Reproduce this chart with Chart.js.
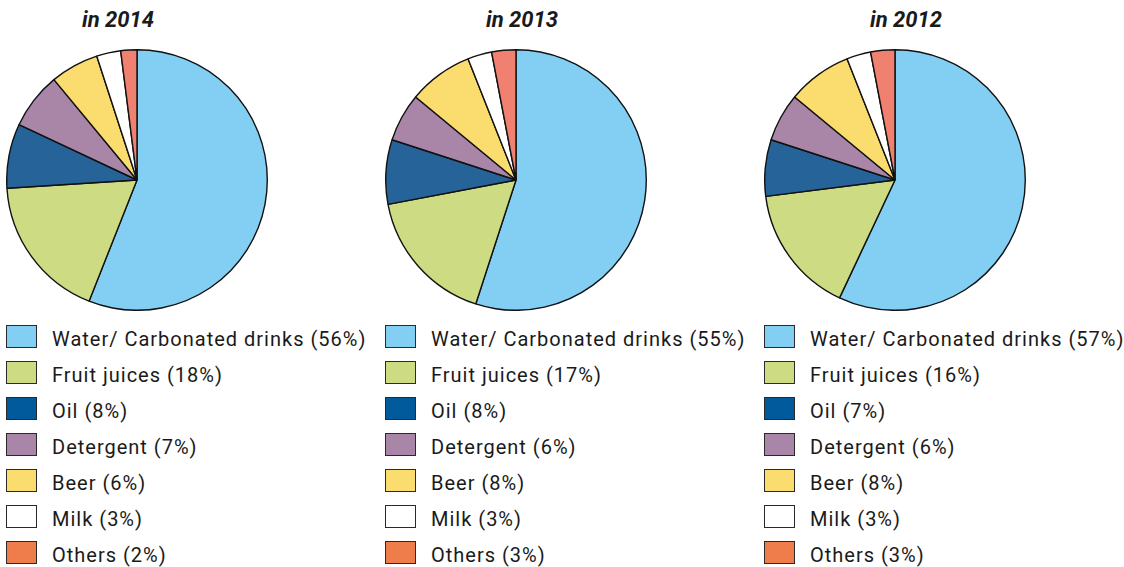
<!DOCTYPE html>
<html>
<head>
<meta charset="utf-8">
<script src="https://cdn.jsdelivr.net/npm/chart.js@4.4.1/dist/chart.umd.min.js"></script>
<style>
    html, body { margin: 0; padding: 0; background: #fff; }
    body { width: 1124px; height: 567px; position: relative; overflow: hidden; font-family: Roboto, "Liberation Sans", sans-serif; color: #1a1a1a; }
    .col { position: absolute; top: 0; width: 379px; height: 567px; }
    .title { position: absolute; top: 7px; font-size: 22px; font-weight: bold; font-style: italic; white-space: nowrap; }
    .pie { position: absolute; left: 0; top: 49px; width: 262px; height: 262px; }
    .legend { position: absolute; left: 0; top: 321px; }
    .item { height: 36px; display: flex; align-items: center; white-space: nowrap; font-size: 20px; letter-spacing: 1px; }
    .box { width: 29px; height: 21px; border: 1.3px solid #2a2a2a; margin-right: 15px; position: relative; top: -3px; }
</style>
</head>
<body>
<div class="col" id="col0"><div class="title" style="left:76px">in 2014</div><canvas class="pie" id="pie0"></canvas><div class="legend" id="legend0"></div></div>
<div class="col" id="col1"><div class="title" style="left:101px">in 2013</div><canvas class="pie" id="pie1"></canvas><div class="legend" id="legend1"></div></div>
<div class="col" id="col2"><div class="title" style="left:106px">in 2012</div><canvas class="pie" id="pie2"></canvas><div class="legend" id="legend2"></div></div>
<script>
const categories = ["Water/ Carbonated drinks", "Fruit juices", "Oil", "Detergent", "Beer", "Milk", "Others"];
const years = ["2014", "2013", "2012"];
const values2014 = [56, 18, 8, 7, 6, 3, 2];
const values2013 = [55, 17, 8, 6, 8, 3, 3];
const values2012 = [57, 16, 7, 6, 8, 3, 3];

const sliceColors = ["#82cff3", "#cddc82", "#266399", "#a985a7", "#fbdc6e", "#ffffff", "#f08070"];
const boxColors = ["#82cff3", "#cddc82", "#005a9b", "#a985a7", "#fbdc6e", "#ffffff", "#ef7c4b"];
const colLefts = [6, 385, 764];

const allValues = [values2014, values2013, values2012];

allValues.forEach((values, i) => {
    document.getElementById("col" + i).style.left = colLefts[i] + "px";

    new Chart(document.getElementById("pie" + i), {
        type: "pie",
        data: {
            labels: categories,
            datasets: [{
                data: values,
                backgroundColor: sliceColors,
                borderColor: "#111",
                borderWidth: 1.4,
            }],
        },
        options: {
            responsive: false,
            animation: false,
            events: [],
            layout: { padding: 0 },
            plugins: {
                legend: { display: false },
                tooltip: { enabled: false },
            },
        },
    });

    // legend under each pie
    const legendEl = document.getElementById("legend" + i);
    categories.forEach((name, k) => {
        const item = document.createElement("div");
        item.className = "item";
        const box = document.createElement("span");
        box.className = "box";
        box.style.background = boxColors[k];
        const label = document.createElement("span");
        label.textContent = `${name} (${values[k]}%)`;
        item.appendChild(box);
        item.appendChild(label);
        legendEl.appendChild(item);
    });
});
</script>
</body>
</html>
